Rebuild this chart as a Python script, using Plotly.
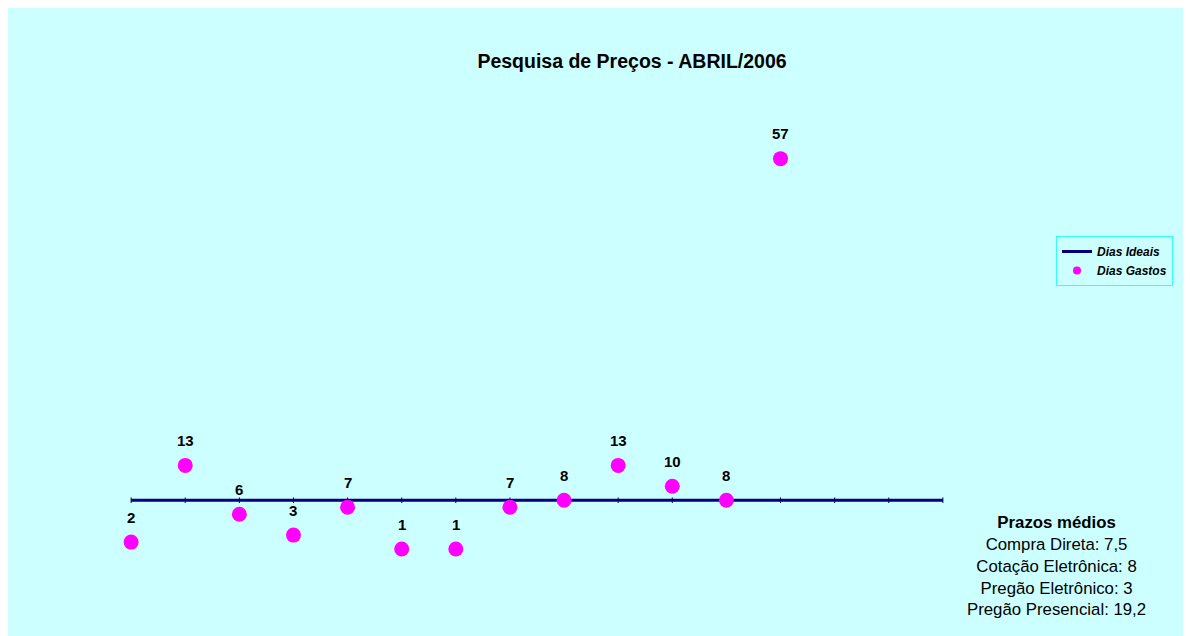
import plotly.graph_objects as go

# Data
categorias_ideais = list(range(16))
dias_ideais = [8] * 16
categorias_gastos = list(range(13))
dias_gastos = [2, 13, 6, 3, 7, 1, 1, 7, 8, 13, 10, 8, 57]

titulo = "Pesquisa de Preços - ABRIL/2006"
prazos_titulo = "Prazos médios"
prazos_linhas = ["Compra Direta: 7,5", "Cotação Eletrônica: 8",
                 "Pregão Eletrônico: 3", "Pregão Presencial: 19,2"]

W, H = 1191, 636
OFF = 8  # page body margin
L, T = 77 - OFF, 75 - OFF
pw, ph = 920, 488
R, B = W - L - pw, H - T - ph

def px_to_paper_x(px):
    return (px - OFF - L) / pw

def px_to_paper_y(py):
    return (T + ph - (py - OFF)) / ph

FONT = "Liberation Sans, Arial, sans-serif"
CYAN = "#CCFFFF"

fig = go.Figure()

fig.add_trace(go.Scatter(
    x=categorias_ideais, y=dias_ideais, mode="lines", name="Dias Ideais",
    line=dict(color="#000080", width=3)))
fig.add_trace(go.Scatter(
    x=categorias_ideais, y=dias_ideais, mode="markers", showlegend=False,
    hoverinfo="skip",
    marker=dict(symbol="line-ns", size=4, line=dict(color="#000060", width=1))))
fig.add_trace(go.Scatter(
    x=categorias_gastos, y=dias_gastos, mode="markers", name="Dias Gastos",
    showlegend=False,
    marker=dict(color="#FF00FF", size=15, line=dict(width=0))))
# legend entry with a small dot, as in the original
fig.add_trace(go.Scatter(
    x=[None], y=[None], mode="markers", name="Dias Gastos",
    marker=dict(color="#FF00FF", size=8, line=dict(width=0))))

annotations = []
for xv, yv in zip(categorias_gastos, dias_gastos):
    annotations.append(dict(x=xv, y=yv, text=f"<b>{yv}</b>", showarrow=False,
                            yshift=25, font=dict(family=FONT, size=15, color="#000000")))

texto = f"<b>{prazos_titulo}</b><br>" + "<br>".join(prazos_linhas)
annotations.append(dict(xref="paper", yref="paper",
                        x=px_to_paper_x(1056), y=px_to_paper_y(511),
                        xanchor="center", yanchor="top", showarrow=False,
                        align="center", text=texto,
                        font=dict(family=FONT, size=16.8, color="#000000")))

fig.update_layout(
    width=W, height=H, autosize=False,
    margin=dict(l=L, r=R, t=T, b=B),
    paper_bgcolor=CYAN, plot_bgcolor=CYAN,
    title=dict(text=f"<b>{titulo}</b>", x=(632 - OFF) / W, xanchor="center",
               y=1 - (61 - OFF) / H, yanchor="middle",
               font=dict(family=FONT, size=19.5, color="#000000")),
    xaxis=dict(range=[-1, 16], visible=False, showgrid=False, zeroline=False),
    yaxis=dict(range=[-1, 69], visible=False, showgrid=False, zeroline=False),
    showlegend=True,
    legend=dict(x=px_to_paper_x(1056), y=px_to_paper_y(236), xanchor="left", yanchor="top",
                bgcolor=CYAN, bordercolor="#33FFFF", borderwidth=1,
                font=dict(family=FONT, size=12, color="#000000", weight="bold", style="italic"),
                itemwidth=30, tracegroupgap=0),
    annotations=annotations,
    font=dict(family=FONT),
)

fig.write_html("out.html")
